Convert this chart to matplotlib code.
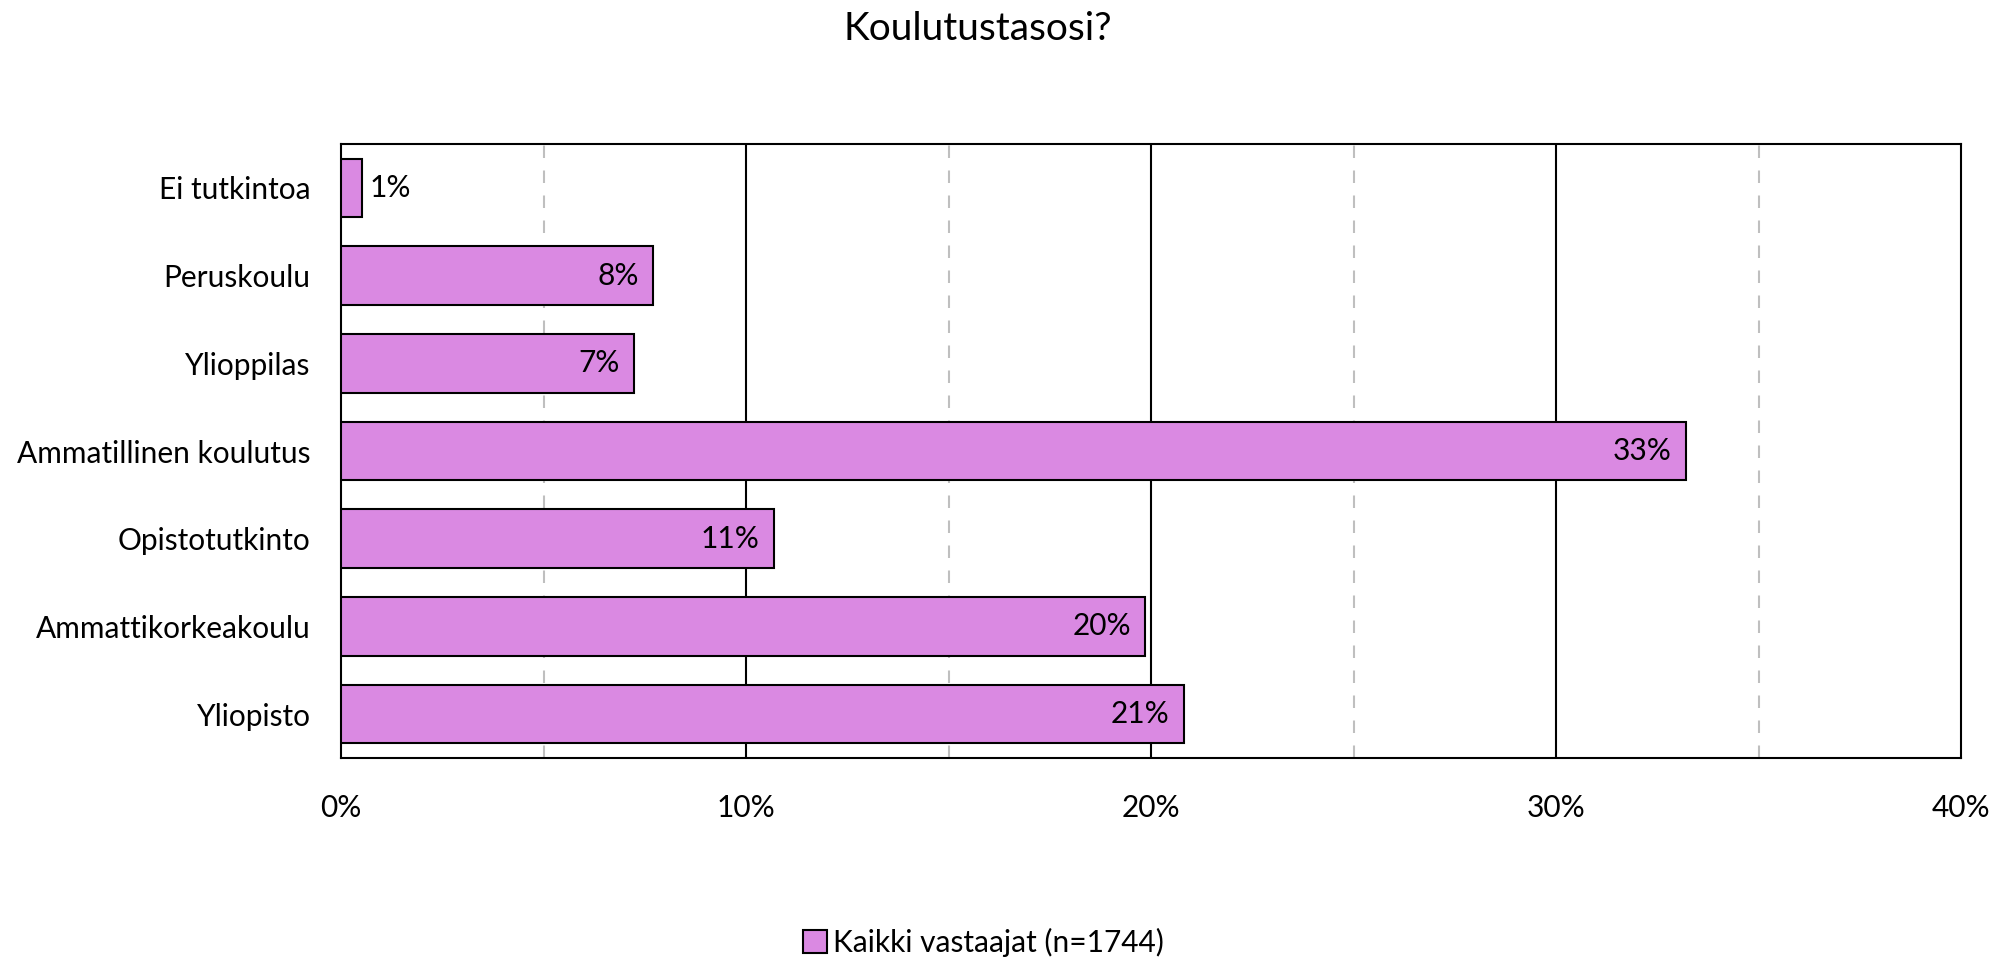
import matplotlib
matplotlib.use("Agg")
import matplotlib.pyplot as plt
from matplotlib.patches import Patch

plt.rcParams['font.family'] = ['Lato', 'DejaVu Sans']

# data
categories = ['Ei tutkintoa', 'Peruskoulu', 'Ylioppilas', 'Ammatillinen koulutus',
              'Opistotutkinto', 'Ammattikorkeakoulu', 'Yliopisto']
values = [0.51, 7.70, 7.23, 33.21, 10.68, 19.86, 20.81]
labels = ['1%', '8%', '7%', '33%', '11%', '20%', '21%']
x_ticks = [0, 10, 20, 30, 40]
x_tick_labels = ['0%', '10%', '20%', '30%', '40%']
minor_ticks = [5, 15, 25, 35]
series_name = 'Kaikki vastaajat (n=1744)'
title = 'Koulutustasosi?'

bar_color = '#da89e2'
fs = 21.5

fig = plt.figure(figsize=(19.95, 9.6), dpi=100)
ax = fig.add_axes([0.171, 0.2104, 0.812, 0.6396])

ypos = list(range(len(categories)))
ax.barh(ypos, values, height=0.667, color=bar_color, edgecolor='black', linewidth=1.5, zorder=3)

for y, v, lab in zip(ypos, values, labels):
    if v < 3:
        ax.text(v + 0.2, y, lab, va='center', ha='left', fontsize=fs)
    else:
        ax.text(v - 0.35, y, lab, va='center', ha='right', fontsize=fs)

ax.set_xlim(0, 40)
ax.set_ylim(len(categories) - 0.5, -0.5)
ax.set_yticks(ypos)
ax.set_yticklabels(categories, fontsize=fs)
ax.set_xticks(x_ticks)
ax.set_xticklabels(x_tick_labels, fontsize=fs)
ax.tick_params(axis='both', length=0)
ax.tick_params(axis='x', pad=26)
ax.tick_params(axis='y', pad=22)

for t in x_ticks[1:-1]:
    ax.axvline(t, color='black', linewidth=1.5, zorder=1)
for t in minor_ticks:
    ax.axvline(t, color='#bfbfbf', linewidth=1.5, linestyle=(0, (6, 6)), zorder=1)

for s in ax.spines.values():
    s.set_linewidth(1.5)
    s.set_color('black')

fig.text(0.49, 0.97, title, ha='center', va='center', fontsize=28)

handle = Patch(facecolor=bar_color, edgecolor='black', linewidth=1.5)
fig.legend([handle], [series_name], loc='center', bbox_to_anchor=(0.493, 0.018),
           frameon=False, fontsize=fs, handlelength=0.8, handleheight=0.8,
           handletextpad=0.2)

fig.savefig('out.png', dpi=100)
